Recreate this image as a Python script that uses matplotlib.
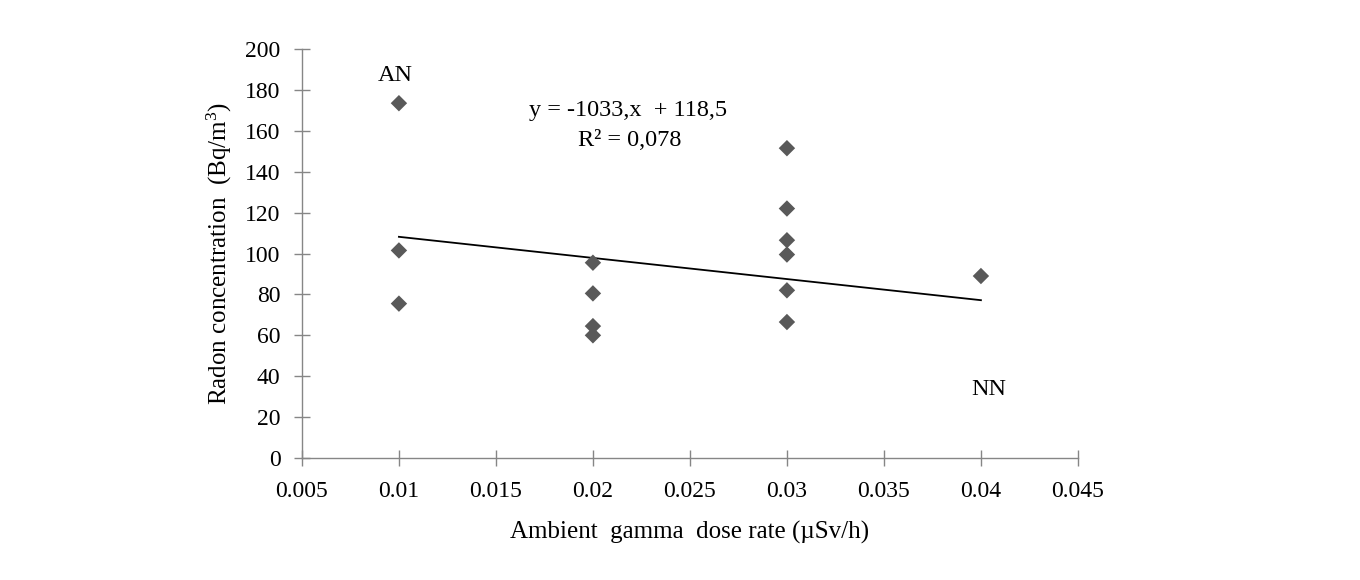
import numpy as np
import matplotlib
matplotlib.use("Agg")
import matplotlib.pyplot as plt

# Data
dose_rate = [0.01, 0.01, 0.01,
             0.02, 0.02, 0.02, 0.02,
             0.03, 0.03, 0.03, 0.03, 0.03, 0.03,
             0.04]
radon = [173.5, 101.5, 75.5,
         95.5, 80.5, 64.5, 60.0,
         151.5, 122.0, 106.5, 99.5, 82.0, 66.5,
         89.0]

# trend line as given in the chart
slope = -1033.0
intercept = 118.5
trend_x = [0.01, 0.04]

x_ticks = [0.005, 0.01, 0.015, 0.02, 0.025, 0.03, 0.035, 0.04, 0.045]
x_tick_labels = ["0.005", "0.01", "0.015", "0.02", "0.025", "0.03", "0.035", "0.04", "0.045"]
y_ticks = list(range(0, 201, 20))

plt.rcParams['font.family'] = ['Liberation Serif', 'DejaVu Serif']
plt.rcParams['mathtext.fontset'] = 'custom'
plt.rcParams['mathtext.rm'] = 'Liberation Serif'
plt.rcParams['mathtext.it'] = 'Liberation Serif:italic'

fig = plt.figure(figsize=(13.6, 5.8), dpi=100)
ax = fig.add_axes([0.222, 0.2103, 0.5706, 0.7052])

ax.scatter(dose_rate, radon, marker='D', s=70, color='#595959', edgecolors='none', zorder=3)

tx = np.array(trend_x)
ax.plot(tx, slope * tx + intercept, color='black', linewidth=1.3, zorder=2)

ax.set_xlim(0.005, 0.045)
ax.set_ylim(0, 200)
ax.set_xticks(x_ticks)
ax.set_xticklabels(x_tick_labels)
ax.set_yticks(y_ticks)

for side in ['top', 'right']:
    ax.spines[side].set_visible(False)
for side in ['left', 'bottom']:
    ax.spines[side].set_color('#868686')
    ax.spines[side].set_linewidth(1.0)

ax.tick_params(axis='both', direction='inout', length=11, width=1.0,
               color='#868686', labelsize=17)
ax.tick_params(axis='x', pad=11)
ax.tick_params(axis='y', pad=10)

ax.set_xlabel("Ambient  gamma  dose rate (\u00b5Sv/h)", fontsize=18, labelpad=14)
ax.set_ylabel("Radon concentration  (Bq/m$^3$)", fontsize=18, labelpad=8)

ax.text(0.0167, 170, "y = -1033,x  + 118,5", fontsize=17.5, ha='left', va='center')
ax.text(0.0219, 155.5, "R\u00b2 = 0,078", fontsize=17.5, ha='center', va='center')
ax.text(0.0098, 187, "AN", fontsize=17.5, ha='center', va='center')
ax.text(0.0404, 33.5, "NN", fontsize=17.5, ha='center', va='center')

fig.savefig("out.png", dpi=100)
